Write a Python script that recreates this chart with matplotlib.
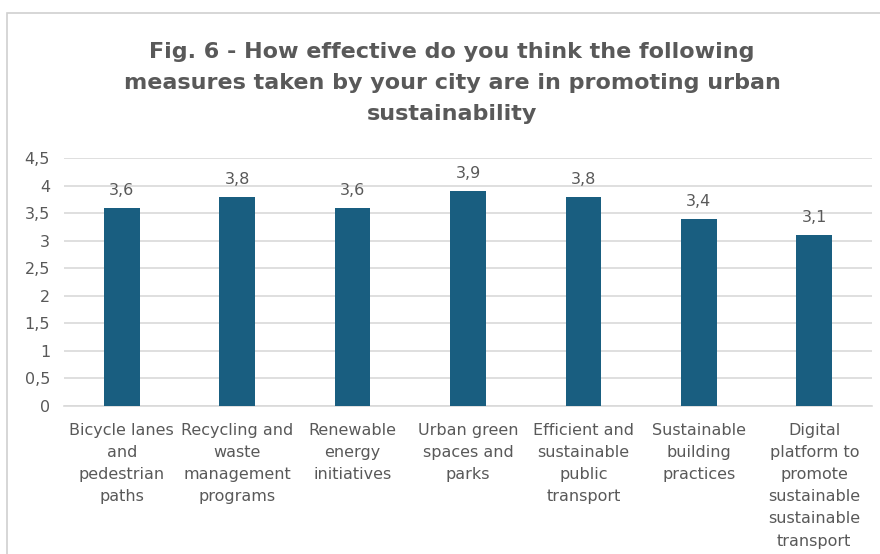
import matplotlib.pyplot as plt
from matplotlib.patches import Rectangle

categories = [
    "Bicycle lanes\nand\npedestrian\npaths",
    "Recycling and\nwaste\nmanagement\nprograms",
    "Renewable\nenergy\ninitiatives",
    "Urban green\nspaces and\nparks",
    "Efficient and\nsustainable\npublic\ntransport",
    "Sustainable\nbuilding\npractices",
    "Digital\nplatform to\npromote\nsustainable\nsustainable\ntransport",
]
scores = [3.6, 3.8, 3.6, 3.9, 3.8, 3.4, 3.1]
yticks = [0, 0.5, 1, 1.5, 2, 2.5, 3, 3.5, 4, 4.5]

bar_color = "#195e80"
text_color = "#595959"
grid_color = "#d9d9d9"

fig = plt.figure(figsize=(8.8, 5.54), dpi=100)
fig.patch.set_facecolor("white")

# chart frame (left and top edges visible)
fig.patches.append(Rectangle((7 / 880, -0.05), 1.0, 1 - 13 / 554 + 0.05,
                             transform=fig.transFigure, fill=False,
                             edgecolor="#d0d0d0", linewidth=1.2))

ax = fig.add_axes([64 / 880, 1 - 406 / 554, 808 / 880, (406 - 158) / 554])
x = list(range(len(categories)))
bars = ax.bar(x, scores, width=0.31, color=bar_color, zorder=3)

for xi, v in zip(x, scores):
    ax.text(xi, v + 0.18, f"{v:.1f}".replace(".", ","), ha="center", va="bottom",
            fontsize=11.5, color=text_color)

ax.set_xlim(-0.5, len(categories) - 0.5)
ax.set_ylim(0, 4.5)
ax.set_yticks(yticks)
ax.set_yticklabels([f"{t:g}".replace(".", ",") for t in yticks],
                   fontsize=11.5, color=text_color)
ax.set_xticks(x)
ax.set_xticklabels(categories, fontsize=11.5, color=text_color,
                   linespacing=1.6, va="top")
ax.tick_params(axis="both", length=0)
ax.tick_params(axis="y", pad=10)
ax.tick_params(axis="x", pad=12)
ax.yaxis.grid(True, color=grid_color, linewidth=1.2, zorder=0)
for s in ["top", "right", "left"]:
    ax.spines[s].set_visible(False)
ax.spines["bottom"].set_color(grid_color)
ax.spines["bottom"].set_linewidth(1.2)

fig.text(452 / 880, 1 - 83 / 554,
         "Fig. 6 - How effective do you think the following\n"
         "measures taken by your city are in promoting urban\n"
         "sustainability",
         ha="center", va="center", fontsize=16, fontweight="bold",
         color=text_color, linespacing=1.7)

fig.savefig("out.png", dpi=100, facecolor="white")
